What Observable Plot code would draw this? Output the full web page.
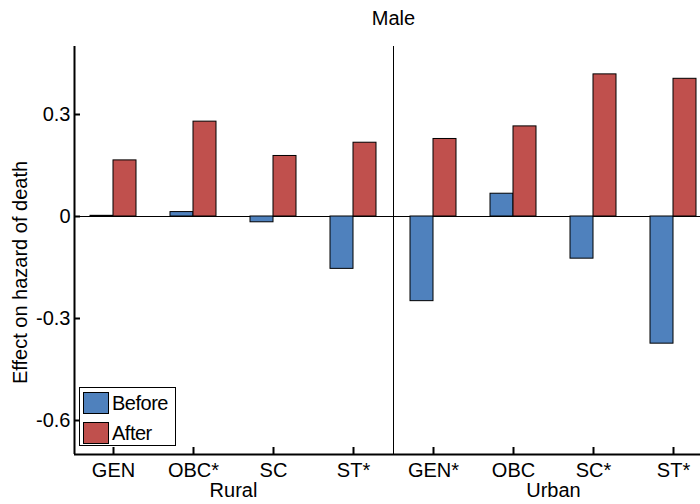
<!DOCTYPE html>
<html><head><meta charset="utf-8">
<script src="https://cdn.jsdelivr.net/npm/d3@7"></script>
<script src="https://cdn.jsdelivr.net/npm/@observablehq/plot@0.6"></script>
<style>
body{margin:0;background:#fff;font-family:"Liberation Sans",Arial,sans-serif;}
#wrap{position:relative;width:700px;height:504px;overflow:hidden;}
.legend{position:absolute;left:79px;top:387px;width:95px;height:57px;border:1px solid #000;background:#fff;font-size:20px;letter-spacing:-0.5px;}
.legend .row{position:absolute;left:3px;height:22px;display:flex;align-items:center;}
.legend .sw{width:24px;height:20px;border:1px solid #000;margin-right:3px;}
</style></head><body><div id="wrap"></div>
<script>
const title = "Male";
const yLabel = "Effect on hazard of death";
const groups = ["Rural", "Urban"];
const categories = ["GEN", "OBC*", "SC", "ST*", "GEN*", "OBC", "SC*", "ST*"];
const categoryGroup = ["Rural", "Rural", "Rural", "Rural", "Urban", "Urban", "Urban", "Urban"];
const series = ["Before", "After"];
const before = [0.002, 0.013, -0.017, -0.154, -0.249, 0.067, -0.124, -0.374];
const after = [0.165, 0.279, 0.178, 0.217, 0.228, 0.265, 0.418, 0.405];
const yTicks = [0.3, 0, -0.3, -0.6];
const colors = ["#4F81BD", "#C0504D"];

const barW = 0.2875;
const idx = categories.map((c, i) => i);
const rows = [];
categories.forEach((c, i) => {
  rows.push({i, cat: c, series: "Before", value: before[i], x1: i - barW, x2: i});
  rows.push({i, cat: c, series: "After", value: after[i], x1: i, x2: i + barW});
});
const groupCenters = groups.map(g => {
  const ii = idx.filter(i => categoryGroup[i] === g);
  return {g, x: d3.mean(ii)};
});
const divider = [(d3.max(idx.filter(i => categoryGroup[i] === groups[0])) + d3.min(idx.filter(i => categoryGroup[i] === groups[1]))) / 2];

const W = 700, H = 504, mL = 74, mR = 0, mT = 46, mB = 50;
const FS = 20;
const plot = Plot.plot({
  width: W, height: H,
  marginLeft: mL, marginRight: mR, marginTop: mT, marginBottom: mB,
  style: {fontSize: FS + "px", fontFamily: "'Liberation Sans', Arial, sans-serif", color: "#000", background: "#fff"},
  x: {domain: [-0.4875, 7.3375], axis: null},
  y: {domain: [-0.7, 0.5], axis: null},
  color: {domain: series, range: colors},
  marks: [
    Plot.ruleY([0], {stroke: "#000", strokeWidth: 1}),
    Plot.ruleX(divider, {stroke: "#000", strokeWidth: 1}),
    Plot.rect(rows, {x1: "x1", x2: "x2", y1: 0, y2: "value", fill: "series", stroke: "#000", strokeWidth: 1}),
    Plot.ruleX([-0.4875], {stroke: "#000", strokeWidth: 2}),
    Plot.ruleY([-0.7], {stroke: "#000", strokeWidth: 2}),
    Plot.tickX(idx, {x: d => d, insetTop: H - mT - mB - 7, stroke: "#000", strokeWidth: 2}),
    Plot.tickY(yTicks, {y: d => d, insetRight: W - mL - mR - 6, stroke: "#000", strokeWidth: 2}),
    Plot.axisX(idx, {tickSize: 0, tickPadding: 8, tickFormat: i => categories[i], fontSize: FS, label: null}),
    Plot.axisY(yTicks, {tickSize: 0, tickPadding: 4, tickFormat: d => d === 0 ? "0" : String(d), fontSize: FS, label: null}),
    Plot.text(groupCenters, {x: "x", text: "g", frameAnchor: "bottom", lineAnchor: "middle", dy: 36, fontSize: FS}),
    Plot.text([title], {x: () => (idx.length - 1) / 2, frameAnchor: "top", lineAnchor: "middle", dy: -28, fontSize: FS}),
    Plot.text([yLabel], {frameAnchor: "left", textAnchor: "middle", lineAnchor: "middle", rotate: -90, dx: -54, dy: 22, fontSize: FS})
  ]
});
const wrap = document.getElementById("wrap");
wrap.appendChild(plot);
const leg = document.createElement("div");
leg.className = "legend";
series.forEach((s, k) => {
  const r = document.createElement("div");
  r.className = "row";
  r.style.top = (4 + k * 30) + "px";
  const sw = document.createElement("div");
  sw.className = "sw";
  sw.style.background = colors[k];
  const t = document.createElement("span");
  t.textContent = s;
  r.appendChild(sw); r.appendChild(t);
  leg.appendChild(r);
});
wrap.appendChild(leg);
</script>
</body></html>
